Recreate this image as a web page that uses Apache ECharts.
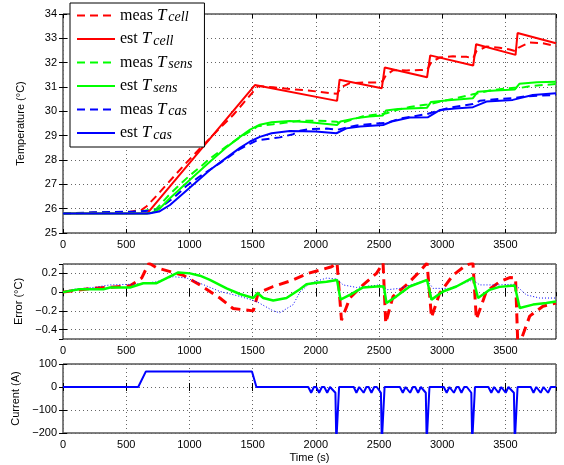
<!DOCTYPE html>
<html>
<head>
<meta charset="utf-8">
<script src="https://cdn.jsdelivr.net/npm/echarts@6/dist/echarts.min.js"></script>
<style>
  html, body { margin: 0; padding: 0; background: #fff; }
  #chart { width: 564px; height: 465px; }
</style>
</head>
<body>
<div id="chart"></div>
<script>
// ---- Temperatures (time in s, temperature in °C) ----
const measCell = [[0,25.8],[200,25.83],[530,25.87],[622,25.95],[662,26.1],[740,26.53],[951,27.75],[1083,28.47],[1241,29.31],[1346,29.85],[1505,30.81],[1544,31.04],[1663,30.99],[1821,30.9],[1939,30.86],[2032,30.8],[2124,30.74],[2168,30.72],[2203,31.0],[2269,31.16],[2374,31.18],[2480,31.19],[2530,31.24],[2553,31.47],[2611,31.69],[2717,31.68],[2822,31.7],[2880,31.7],[2915,32.03],[2980,32.21],[3085,32.26],[3191,32.24],[3245,32.18],[3270,32.47],[3349,32.66],[3454,32.61],[3534,32.54],[3580,32.47],[3605,32.62],[3692,32.83],[3797,32.8],[3900,32.68]];
const estCell = [[0,25.8],[665,25.8],[1518,31.08],[2168,30.43],[2188,31.3],[2522,30.95],[2545,31.8],[2880,31.4],[2905,32.3],[3245,31.88],[3268,32.76],[3580,32.32],[3596,33.22],[3900,32.8]];
const measSens = [[0,25.8],[372,25.85],[530,25.85],[635,25.9],[740,26.0],[846,26.6],[912,26.93],[1004,27.37],[1083,27.7],[1162,28.06],[1294,28.56],[1399,28.93],[1505,29.25],[1539,29.39],[1584,29.42],[1663,29.47],[1768,29.54],[1874,29.61],[2006,29.62],[2085,29.6],[2168,29.57],[2195,29.5],[2269,29.63],[2374,29.8],[2506,29.88],[2538,29.9],[2559,29.92],[2638,30.05],[2743,30.18],[2880,30.28],[2915,30.31],[3006,30.43],[3112,30.54],[3243,30.7],[3283,30.74],[3375,30.86],[3454,30.91],[3573,30.97],[3613,30.96],[3718,31.05],[3824,31.09],[3900,31.12]];
const estSens = [[0,25.8],[660,25.8],[700,25.83],[760,25.98],[846,26.43],[1000,27.17],[1162,27.93],[1300,28.55],[1400,28.95],[1480,29.25],[1557,29.45],[1650,29.55],[1794,29.6],[1950,29.55],[2168,29.44],[2195,29.58],[2300,29.7],[2420,29.79],[2530,29.83],[2555,30.03],[2650,30.1],[2880,30.15],[2910,30.38],[3050,30.46],[3243,30.54],[3280,30.8],[3420,30.86],[3575,30.9],[3610,31.13],[3750,31.2],[3900,31.22]];
const measCas = [[0,25.8],[240,25.85],[556,25.88],[740,25.93],[872,26.43],[978,26.94],[1083,27.33],[1241,27.87],[1399,28.45],[1531,28.8],[1663,28.9],[1715,28.93],[1821,29.06],[1874,29.2],[1953,29.27],[2085,29.29],[2168,29.24],[2216,29.3],[2322,29.42],[2506,29.51],[2559,29.52],[2664,29.7],[2880,29.89],[2927,29.96],[3059,30.15],[3243,30.3],[3296,30.43],[3454,30.51],[3573,30.55],[3666,30.62],[3771,30.64],[3900,30.68]];
const estCas = [[0,25.8],[680,25.8],[760,25.88],[846,26.15],[1000,26.85],[1162,27.59],[1300,28.12],[1400,28.5],[1480,28.76],[1557,28.95],[1650,29.1],[1794,29.19],[2000,29.17],[2163,29.1],[2242,29.3],[2350,29.38],[2532,29.44],[2600,29.58],[2743,29.75],[2888,29.76],[2980,30.05],[3100,30.12],[3243,30.17],[3350,30.4],[3558,30.47],[3716,30.67],[3900,30.74]];

// ---- Estimation errors, measured minus estimated (°C) ----
const errCell = [[0,0],[100,0.02],[240,0.04],[530,0.067],[622,0.15],[680,0.31],[740,0.26],[951,0.18],[1083,0.077],[1241,-0.063],[1346,-0.175],[1505,-0.2],[1544,-0.01],[1663,0.06],[1821,0.13],[1939,0.2],[2032,0.235],[2124,0.27],[2168,0.31],[2203,-0.3],[2269,-0.063],[2374,0.077],[2480,0.2],[2532,0.31],[2553,-0.33],[2611,-0.045],[2717,0.077],[2822,0.22],[2880,0.31],[2915,-0.27],[2980,-0.01],[3085,0.18],[3191,0.29],[3243,0.31],[3270,-0.29],[3349,0.007],[3454,0.11],[3534,0.155],[3580,0.15],[3599,-0.6],[3692,-0.256],[3797,-0.15],[3900,-0.116]];
const errSens = [[0,0],[129,0.03],[319,0.03],[372,0.05],[530,0.05],[635,0.095],[740,0.095],[912,0.21],[1004,0.2],[1083,0.175],[1162,0.13],[1294,0.04],[1399,-0.02],[1505,-0.063],[1539,-0.01],[1584,-0.063],[1663,-0.09],[1768,-0.063],[1874,0.03],[1926,0.084],[2006,0.1],[2085,0.11],[2168,0.13],[2195,-0.08],[2269,-0.03],[2374,0.05],[2506,0.063],[2538,0.06],[2559,-0.116],[2638,-0.045],[2743,0.06],[2880,0.13],[2915,-0.08],[3006,0.007],[3112,0.06],[3243,0.155],[3283,-0.063],[3375,0.025],[3454,0.056],[3573,0.07],[3613,-0.17],[3718,-0.133],[3824,-0.116],[3900,-0.1]];
const errCas = [[0,0],[79,0.03],[240,0.05],[372,0.077],[556,0.084],[740,0.11],[872,0.165],[978,0.15],[1083,0.095],[1241,0.007],[1399,-0.045],[1531,-0.1],[1663,-0.2],[1715,-0.22],[1821,-0.133],[1874,0.0],[1953,0.095],[2085,0.15],[2168,0.14],[2216,0.077],[2322,0.05],[2506,0.077],[2559,0.025],[2664,0.04],[2880,0.13],[2927,0.04],[3059,0.04],[3243,0.13],[3296,0.077],[3454,0.077],[3573,0.084],[3666,-0.03],[3771,-0.063],[3900,-0.063]];

// ---- Pack current (A) ----
const current = [
  [0,0],[595,0],[655,67],[1495,67],[1530,0],
  [1940,0],[1963,-25],[1985,0],[2003,0],[2026,-25],[2048,0],[2067,0],[2090,-25],[2112,0],[2125,0],[2155,-25],[2162,-240],[2172,-240],[2184,0],
  [2300,0],[2321,-25],[2343,0],[2356,0],[2378,-25],[2400,0],[2418,0],[2440,-25],[2462,0],[2482,0],[2515,-25],[2522,-240],[2532,-240],[2544,0],
  [2665,0],[2688,-25],[2710,0],[2723,0],[2746,-25],[2768,0],[2786,0],[2809,-25],[2831,0],[2840,0],[2870,-25],[2877,-240],[2887,-240],[2899,0],
  [3012,0],[3035,-25],[3057,0],[3070,0],[3092,-25],[3114,0],[3130,0],[3152,-25],[3174,0],[3195,0],[3230,-25],[3237,-240],[3247,-240],[3259,0],
  [3365,0],[3388,-25],[3410,0],[3423,0],[3445,-25],[3467,0],[3480,0],[3502,-25],[3524,0],[3535,0],[3567,-25],[3574,-240],[3584,-240],[3596,0],
  [3700,0],[3722,-25],[3744,0],[3757,0],[3779,-25],[3801,0],[3815,0],[3837,-25],[3859,0],[3900,0]
];

// ---- Legend entries: [series key, leading word, subscript] ----
const legendEntries = [
  ['measCell', 'meas', 'cell'], ['estCell', 'est', 'cell'],
  ['measSens', 'meas', 'sens'], ['estSens', 'est', 'sens'],
  ['measCas', 'meas', 'cas'], ['estCas', 'est', 'cas']
];

const RED = '#ff0000', GREEN = '#00ff00', BLUE = '#0000ff';
const DASH = [8, 5];
const SANS = 'Liberation Sans, Helvetica, Arial, sans-serif';
const SERIF = 'Liberation Serif, Times New Roman, serif';
const plain = v => String(v).replace('-', '\u2212');

const grids = [
  { left: 63, top: 14, width: 493, height: 219 },
  { left: 63, top: 264, width: 493, height: 75 },
  { left: 63, top: 364, width: 493, height: 69 }
].map(g => Object.assign(g, { show: true, borderColor: '#000', borderWidth: 1, backgroundColor: '#fff' }));

const tick = { show: true, inside: true, length: 4, lineStyle: { color: '#000', width: 1 } };
const grid = { show: true, lineStyle: { color: '#666', width: 1, type: [1, 3] } };
const label = { color: '#000', fontSize: 11, fontFamily: SANS };

function xAxes(gi, withName) {
  const base = { gridIndex: gi, type: 'value', min: 0, max: 3900, interval: 500 };
  return [
    Object.assign({}, base, {
      position: 'bottom',
      axisLine: { show: false },
      axisTick: tick,
      axisLabel: Object.assign({}, label, { margin: 6, showMaxLabel: false, formatter: plain }),
      splitLine: grid,
      name: withName ? 'Time (s)' : '',
      nameLocation: 'middle', nameGap: 19,
      nameTextStyle: { color: '#000', fontSize: 11, fontFamily: SANS }
    }),
    Object.assign({}, base, {
      position: 'top',
      axisLine: { show: false }, axisTick: tick, axisLabel: { show: false }, splitLine: { show: false }
    })
  ];
}

function yAxes(gi, range, name, nameGap) {
  const base = Object.assign({ gridIndex: gi, type: 'value' }, range);
  return [
    Object.assign({}, base, {
      position: 'left',
      axisLine: { show: false },
      axisTick: tick,
      axisLabel: Object.assign({}, label, { margin: 6, formatter: plain }),
      splitLine: grid,
      name: name, nameLocation: 'middle', nameGap: nameGap,
      nameTextStyle: { color: '#000', fontSize: 11, fontFamily: SANS }
    }),
    Object.assign({}, base, {
      position: 'right',
      axisLine: { show: false }, axisTick: tick, axisLabel: { show: false }, splitLine: { show: false }
    })
  ];
}

const xAxis = [].concat(xAxes(0, false), xAxes(1, false), xAxes(2, true));
const yAxis = [].concat(
  yAxes(0, { min: 25, max: 34, interval: 1 }, 'Temperature (\u00b0C)', 37),
  yAxes(1, { min: -0.5, max: 0.3, splitNumber: 4 }, 'Error (\u00b0C)', 36),
  yAxes(2, { min: -200, max: 100, interval: 100 }, 'Current (A)', 40)
);
// the error axis keeps its -0.5 / 0.3 edges unlabeled
yAxis[2].axisLabel.showMinLabel = false;
yAxis[2].axisLabel.showMaxLabel = false;

function line(name, data, gi, color, width, type, z) {
  return {
    name: name, type: 'line', data: data,
    xAxisIndex: gi * 2, yAxisIndex: gi * 2,
    symbol: 'none', showSymbol: false, animation: false, clip: true,
    lineStyle: { color: color, width: width, type: type },
    itemStyle: { color: 'rgba(0,0,0,0)', borderWidth: 0 },
    z: z || 2
  };
}

const series = [
  line('measCell', measCell, 0, RED, 2, DASH, 2),
  line('estCell', estCell, 0, RED, 2, 'solid', 3),
  line('measSens', measSens, 0, GREEN, 2, DASH, 2),
  line('estSens', estSens, 0, GREEN, 2, 'solid', 3),
  line('measCas', measCas, 0, BLUE, 2, DASH, 2),
  line('estCas', estCas, 0, BLUE, 2, 'solid', 3),
  line('errCell', errCell, 1, RED, 3, [10, 6], 2),
  line('errCas', errCas, 1, BLUE, 1, [1, 2], 3),
  line('errSens', errSens, 1, GREEN, 2.5, 'solid', 4),
  line('current', current, 2, BLUE, 2, 'solid', 2)
];

const legendText = {};
legendEntries.forEach(e => { legendText[e[0]] = '{w|' + e[1] + ' }{t|T}{s|' + e[2] + '}'; });

const chart = echarts.init(document.getElementById('chart'), null, { renderer: 'canvas' });
chart.setOption({
  animation: false,
  backgroundColor: '#fff',
  grid: grids,
  xAxis: xAxis,
  yAxis: yAxis,
  legend: {
    data: legendEntries.map(e => e[0]),
    orient: 'vertical',
    left: 70, top: 3,
    padding: [4, 12, 5, 6],
    backgroundColor: '#fff',
    borderColor: '#000', borderWidth: 1,
    itemWidth: 38, itemHeight: 14, itemGap: 6,
    selectedMode: false,
    itemStyle: { opacity: 0 },
    formatter: name => legendText[name],
    textStyle: {
      color: '#000',
      rich: {
        w: { fontFamily: SERIF, fontSize: 16, lineHeight: 18, color: '#000' },
        t: { fontFamily: SERIF, fontStyle: 'italic', fontSize: 17, lineHeight: 18, color: '#000', padding: [0, 2, 0, 0] },
        s: { fontFamily: SERIF, fontStyle: 'italic', fontSize: 14, lineHeight: 11, verticalAlign: 'bottom', color: '#000' }
      }
    },
    z: 10
  },
  series: series
});
</script>
</body>
</html>
